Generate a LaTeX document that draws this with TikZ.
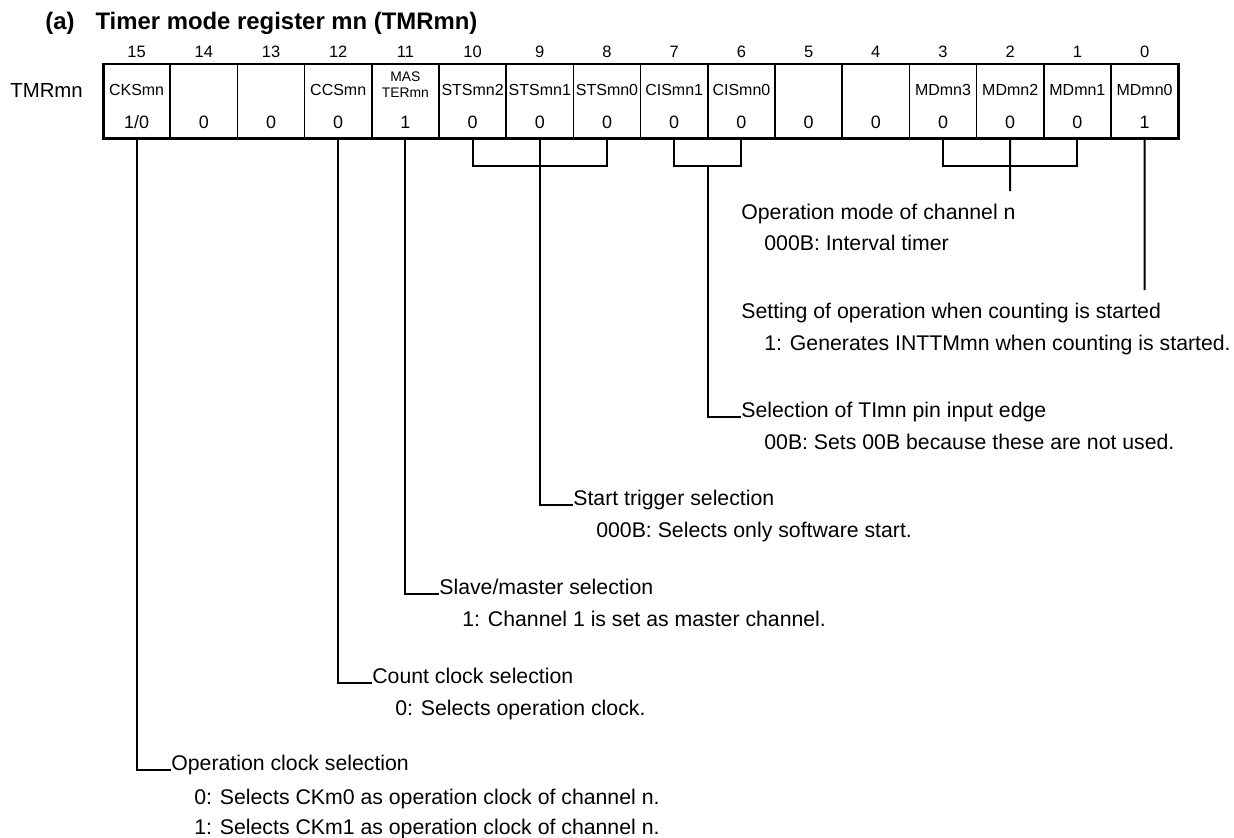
\documentclass[tikz,border=0pt]{standalone}
\usepackage{fontspec}
\setmainfont{Liberation Sans}
\begin{document}
\begin{tikzpicture}
  [x=0.02cm,y=-0.02cm,
   cell/.style={draw,line width=0.85pt,minimum width=1.344cm,minimum height=1.5cm,inner sep=0pt,outer sep=0pt},
   frame/.style={line width=1.7pt},
   bitno/.style={font=\fontsize{9.4}{10}\selectfont},
   field/.style={font=\fontsize{9.1}{10}\selectfont,inner sep=0pt},
   val/.style={font=\fontsize{10.2}{11}\selectfont,inner sep=0pt},
   head/.style={anchor=base west,inner sep=0pt,font=\fontsize{12.1}{14}\selectfont},
   wire/.style={line width=1.1pt}]
  \useasboundingbox (0,0) rectangle (1234,838);

  \node[anchor=base west,inner sep=0pt,font=\fontsize{13.6}{15}\selectfont\bfseries] (title) at (45,30)
    {(a)\hspace{0.6em} Timer mode register mn (TMRmn)};
  \node[anchor=west,inner sep=0pt,font=\fontsize{11.6}{13}\selectfont] (reg) at (10,90) {TMRmn};

  % register cells
  \foreach \b/\nm/\v in {15/CKSmn/1\slash 0,14//0,13//0,12/CCSmn/0,11//1,10/STSmn2/0,9/STSmn1/0,8/STSmn0/0,
                         7/CISmn1/0,6/CISmn0/0,5//0,4//0,3/MDmn3/0,2/MDmn2/0,1/MDmn1/0,0/MDmn0/1}
  {
    \node[cell] (b\b) at ({136.6+(15-\b)*67.2},101.5) {};
    \node[bitno] (n\b) at ({136.6+(15-\b)*67.2},52) {\b};
    \node[field] (f\b) at ({136.6+(15-\b)*67.2},90) {\nm};
    \node[val] (v\b) at ({136.6+(15-\b)*67.2},122) {\v};
  }
  \node[field,align=center,font=\fontsize{7.9}{9}\selectfont] (master) at (405.4,85) {MAS\\TERmn};
  \draw[frame] (b15.north west) rectangle (b0.south east);

  % descriptions
  \node[head] (mode) at (741,219) {Operation mode of channel n};
  \node[head] (mode0) at (764,250) {000B: Interval timer};
  \node[head] (start) at (741,318) {Setting of operation when counting is started};
  \node[head] (start1) at (764,350) {1: Generates INTTMmn when counting is started.};
  \node[head] (edge) at (741,417) {Selection of TImn pin input edge};
  \node[head] (edge0) at (764,449) {00B: Sets 00B because these are not used.};
  \node[head] (trig) at (573,505) {Start trigger selection};
  \node[head] (trig0) at (596,537) {000B: Selects only software start.};
  \node[head] (slave) at (439,594) {Slave/master selection};
  \node[head] (slave1) at (462,626) {1: Channel 1 is set as master channel.};
  \node[head] (count) at (372,683) {Count clock selection};
  \node[head] (count0) at (395,715) {0: Selects operation clock.};
  \node[head] (clk) at (171,770) {Operation clock selection};
  \node[head] (clk0) at (194,804) {0: Selects CKm0 as operation clock of channel n.};
  \node[head] (clk1) at (194,834) {1: Selects CKm1 as operation clock of channel n.};

  % connectors
  \coordinate (cisbr) at (707.8,166);
  \coordinate (mdend) at (1010.2,191);
  \coordinate (md0end) at (1144.6,290);
  \draw[wire] (b10.south) -- ++(0,27) -| (b8.south);
  \draw[wire] (b7.south) -- ++(0,27) -| (b6.south);
  \draw[wire] (b3.south) -- ++(0,27) -| (b1.south);
  \draw[wire] (b2.south) -- (mdend);
  \draw[wire] (b0.south) -- (md0end);
  \draw[wire] (cisbr) |- (edge.base west);
  \draw[wire] (b9.south) |- (trig.base west);
  \draw[wire] (b11.south) |- (slave.base west);
  \draw[wire] (b12.south) |- (count.base west);
  \draw[wire] (b15.south) |- (clk.base west);

\end{tikzpicture}
\end{document}
